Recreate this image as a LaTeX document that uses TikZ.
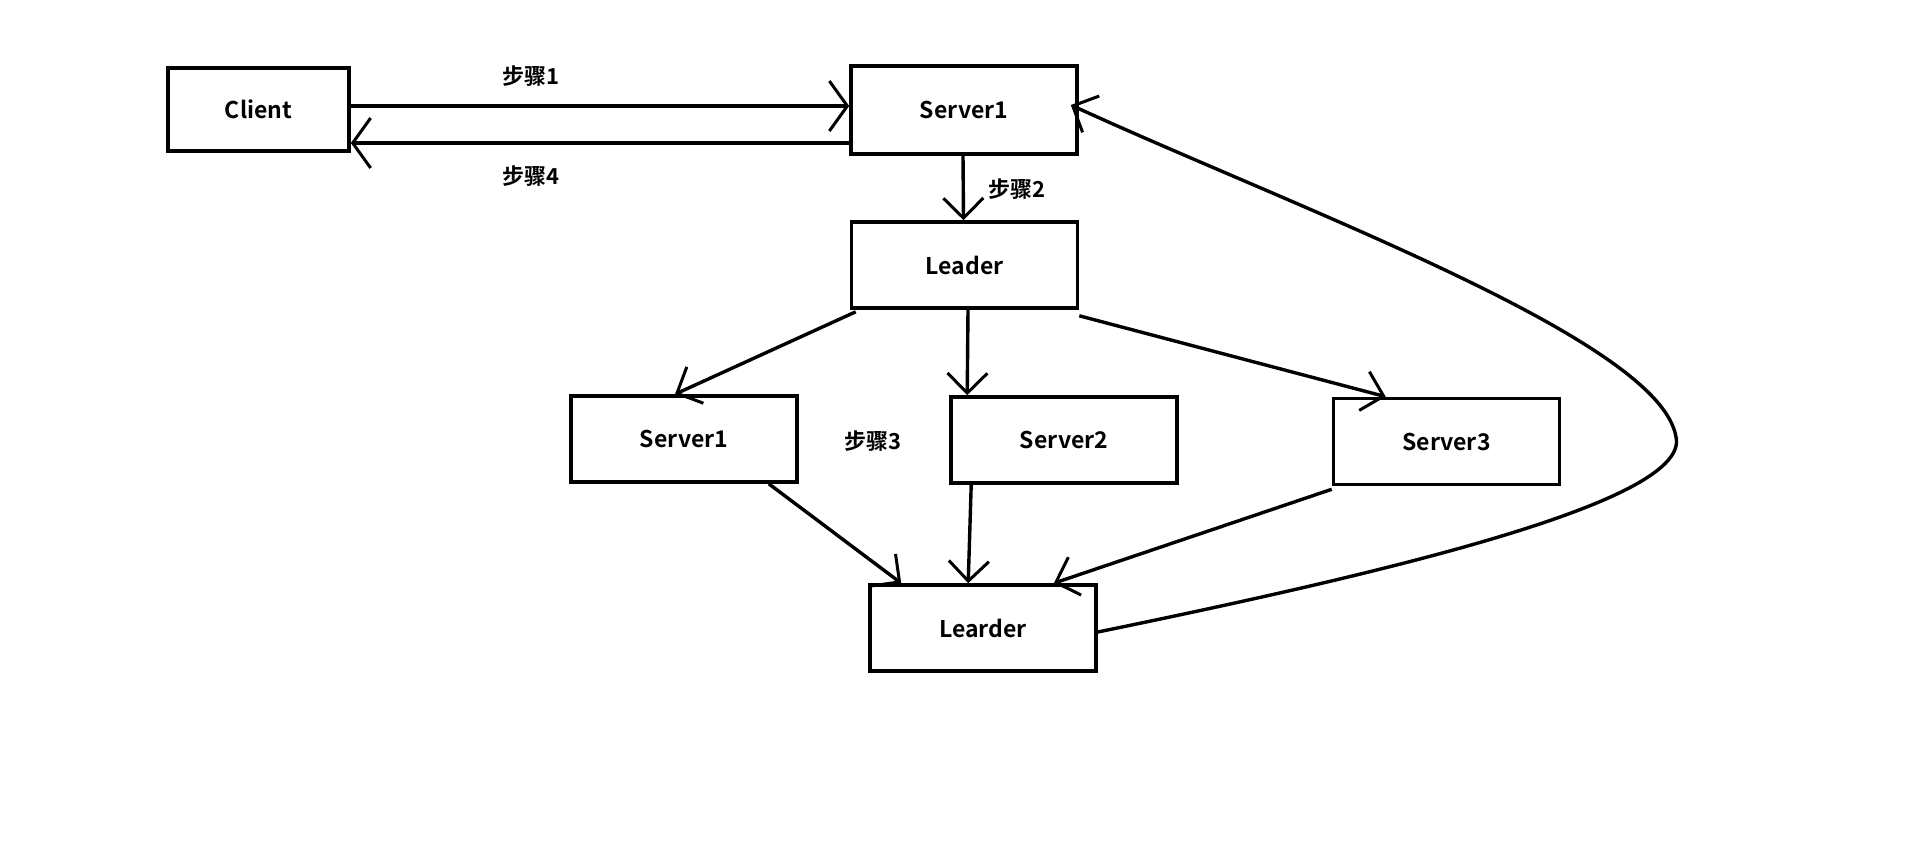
\documentclass[tikz,border=0pt]{standalone}
\usepackage{fontspec}
\setmainfont{Noto Sans CJK SC}[BoldFont={Noto Sans CJK SC Bold}]
\usetikzlibrary{arrows.meta}
\begin{document}
\begin{tikzpicture}[x=1pt,y=-1pt,
  box/.style={draw,line width=3.6pt,minimum width=226pt,minimum height=86pt,inner sep=0pt,font=\bfseries\fontsize{23}{26}\selectfont},
  lbl/.style={font=\bfseries\fontsize{22}{25}\selectfont,inner sep=0pt},
  conn/.style={line width=3.4pt,-{Straight Barb[length=20pt,width=40pt,line width=3pt]}},
  wide/.style={line width=3.6pt,-{Straight Barb[length=18pt,width=50pt,line width=3pt]}}]
\useasboundingbox (0,0) rectangle (1914,849);
\node[box,minimum width=181pt,minimum height=83pt] (client) at (258.5,109.5) {Client};
\node[box,minimum height=88pt] (s1top) at (964,110) {Server1};
\node[box] (leader) at (964.5,265) {Leader};
\node[box] (s1) at (684,439) {Server1};
\node[box] (s2) at (1064,440) {Server2};
\node[box] (s3) at (1446.5,441.5) {Server3};
\node[box] (learder) at (983,628) {Learder};
\node[lbl] (t1) at (531,76) {步骤1};
\node[lbl] (t4) at (531,176) {步骤4};
\node[lbl] (t2) at (1017,189) {步骤2};
\node[lbl] (t3) at (873,441) {步骤3};
\draw[wide] ([yshift=3.5pt]client.east) -- ([yshift=4pt]s1top.west);
\draw[wide] ([yshift=-33pt]s1top.west) -- ([yshift=-33.5pt]client.east);
\draw[conn] ([xshift=-1pt]s1top.south) -- ([xshift=-1pt]leader.north);
\draw[conn] ([xshift=6pt,yshift=-2pt]leader.south west) -- ([xshift=-9pt]s1.north);
\draw[conn] ([xshift=3.5pt]leader.south) -- ([xshift=18pt]s2.north west);
\draw[conn] ([yshift=-6pt]leader.south east) -- ([xshift=54pt]s3.north west);
\draw[conn] ([xshift=-30pt]s1.south east) -- ([xshift=33pt]learder.north west);
\draw[conn] ([xshift=22pt]s2.south west) -- ([xshift=100pt]learder.north west);
\draw[conn] ([yshift=-3pt]s3.south west) -- ([xshift=-44pt]learder.north east);
\draw[conn] ([yshift=-4pt]learder.east) .. controls (1400,570) and (1690,500) .. (1676,437)
  .. controls (1660,340) and (1300,210) .. ([xshift=-8pt,yshift=5pt]s1top.east);
\end{tikzpicture}
\end{document}
